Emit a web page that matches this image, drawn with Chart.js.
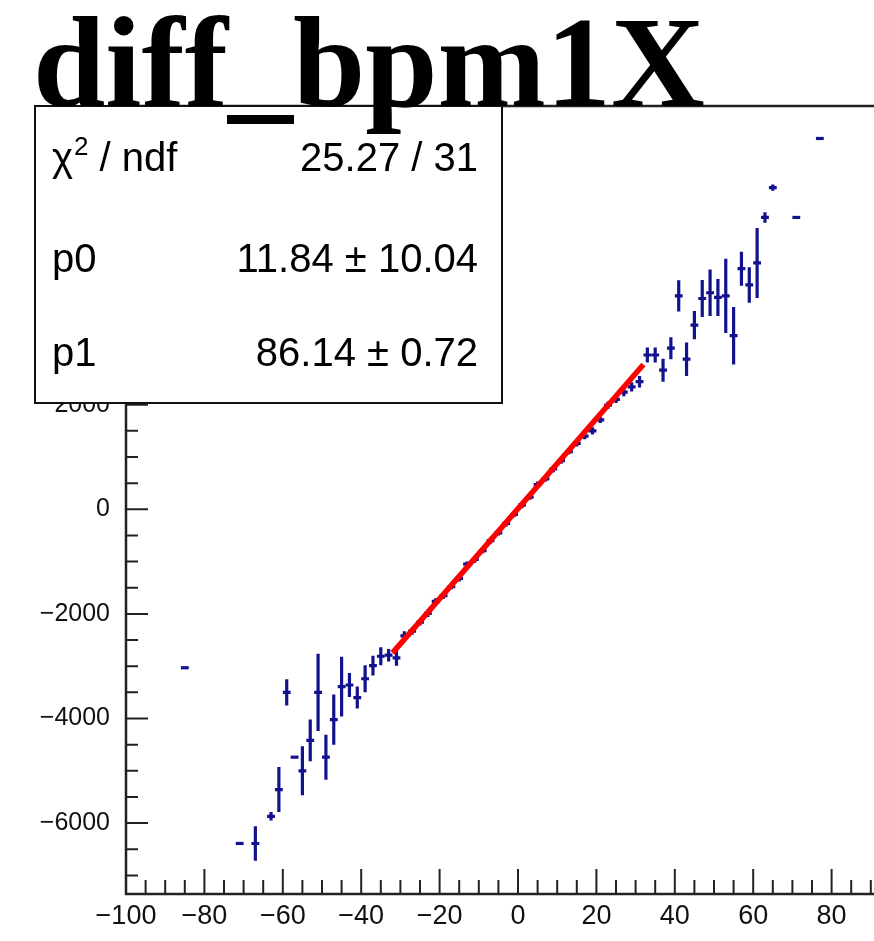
<!DOCTYPE html>
<html>
<head>
<meta charset="utf-8">
<script src="https://cdn.jsdelivr.net/npm/chart.js@4.4.1/dist/chart.umd.min.js"></script>
<style>
  html, body { margin: 0; padding: 0; overflow: hidden; background: #fff; }
  canvas { display: block; }
</style>
</head>
<body>
<canvas id="c" width="910" height="941"></canvas>
<script>
// profile bins: centre, mean, error
const binX = [-85, -71, -67, -63, -61, -59, -57, -55, -53, -51, -49, -47, -45, -43, -41, -39, -37, -35, -33, -31,
  -29, -27, -25, -23, -21, -19, -17, -15, -13, -11, -9, -7, -5, -3, -1,
  1, 3, 5, 7, 9, 11, 13, 15, 17, 19, 21, 23, 25, 27, 29, 31,
  33, 35, 37, 39, 41, 43, 45, 47, 49, 51, 53, 55, 57, 59, 61, 63, 65, 71, 77];
const binY = [-3030, -6390, -6390, -5870, -5360, -3500, -4740, -5000, -4420, -3500, -4740, -4020, -3390, -3360, -3600, -3240, -2990, -2810, -2790, -2840,
  -2420, -2330, -2160, -1990, -1760, -1650, -1480, -1320, -1050, -960, -790, -600, -450, -270, -100,
  80, 230, 470, 580, 770, 930, 1100, 1260, 1400, 1500, 1710, 1990, 2100, 2240, 2340, 2440,
  2950, 2950, 2660, 3080, 4080, 2870, 3520, 4030, 4140, 4050, 4080, 3320, 4600, 4290, 4710, 5580, 6150, 5580, 7090];
const binErr = [0, 0, 330, 80, 430, 250, 0, 470, 400, 740, 430, 480, 570, 230, 210, 260, 190, 170, 120, 150,
  90, 70, 60, 70, 60, 60, 50, 60, 50, 60, 50, 60, 50, 60, 50,
  60, 50, 60, 50, 60, 60, 50, 60, 60, 70, 60, 70, 70, 80, 90, 110,
  145, 145, 220, 210, 300, 320, 270, 355, 445, 355, 710, 550, 325, 340, 670, 100, 60, 0, 0];
const binHalfWidth = 1;

// straight-line fit, drawn over its range
const fitX = [-32, 32];
const fitY = [-2745, 2768];

const xTicks = [-100, -80, -60, -40, -20, 0, 20, 40, 60, 80, 100];
const yTicks = [-6000, -4000, -2000, 0, 2000, 4000, 6000];

const titleText = "diff_bpm1X";
const statNames = ["χ2 / ndf", "p0", "p1"];
const statValues = ["25.27 / 31", "11.84 ± 10.04", "86.14 ± 0.72"];

const navy = "#12128e";

function fmt(v) {
  return v < 0 ? "\u2212" + Math.abs(v) : String(v);
}

const rootDeco = {
  id: "rootDeco",
  beforeDatasetsDraw(chart) {
    const { ctx, scales: { x, y }, chartArea } = chart;
    ctx.save();
    ctx.beginPath();
    ctx.rect(chartArea.left, chartArea.top, chartArea.right - chartArea.left, chartArea.bottom - chartArea.top);
    ctx.clip();
    ctx.strokeStyle = navy;
    ctx.lineWidth = 3.2;
    for (let i = 0; i < binX.length; i++) {
      const py = y.getPixelForValue(binY[i]);
      ctx.beginPath();
      ctx.moveTo(x.getPixelForValue(binX[i] - binHalfWidth), py);
      ctx.lineTo(x.getPixelForValue(binX[i] + binHalfWidth), py);
      if (binErr[i] > 0) {
        const px = x.getPixelForValue(binX[i]);
        ctx.moveTo(px, y.getPixelForValue(binY[i] + binErr[i]));
        ctx.lineTo(px, y.getPixelForValue(binY[i] - binErr[i]));
      }
      ctx.stroke();
    }
    ctx.restore();
  },
  afterDraw(chart) {
    const { ctx, scales: { x, y }, chartArea: a } = chart;
    ctx.save();
    // frame
    ctx.strokeStyle = "#222";
    ctx.lineWidth = 2.5;
    ctx.strokeRect(a.left, a.top, a.right - a.left, a.bottom - a.top);

    // ticks pointing into the frame
    ctx.lineWidth = 2;
    ctx.beginPath();
    for (let v = -100; v <= 100; v += 5) {
      const px = x.getPixelForValue(v);
      const len = v % 20 === 0 ? 25 : 14;
      ctx.moveTo(px, a.bottom);
      ctx.lineTo(px, a.bottom - len);
    }
    for (let v = -7000; v <= 7500; v += 500) {
      const py = y.getPixelForValue(v);
      const len = v % 2000 === 0 ? 22 : 12;
      ctx.moveTo(a.left, py);
      ctx.lineTo(a.left + len, py);
    }
    ctx.stroke();

    // stats box
    ctx.fillStyle = "#fff";
    ctx.fillRect(35, 106, 467, 297);
    ctx.strokeStyle = "#111";
    ctx.lineWidth = 2;
    ctx.strokeRect(35, 106, 467, 297);

    ctx.fillStyle = "#000";
    ctx.textBaseline = "alphabetic";
    const rows = [171, 272, 366];
    for (let i = 0; i < statNames.length; i++) {
      ctx.font = '40px "Liberation Sans"';
      ctx.textAlign = "left";
      if (i === 0) {
        ctx.fillText("χ", 52, rows[i]);
        let cx = 52 + ctx.measureText("χ").width + 1;
        ctx.font = '26px "Liberation Sans"';
        ctx.fillText("2", cx, rows[i] - 16);
        cx += ctx.measureText("2").width;
        ctx.font = '40px "Liberation Sans"';
        ctx.fillText(" / ndf", cx, rows[i]);
      } else {
        ctx.fillText(statNames[i], 52, rows[i]);
      }
      ctx.textAlign = "right";
      ctx.fillText(statValues[i], 478, rows[i]);
    }

    // title
    ctx.textAlign = "left";
    ctx.font = 'bold 130px "Liberation Serif"';
    ctx.fillText(titleText, 33, 106);
    ctx.restore();
  }
};

new Chart(document.getElementById("c"), {
  type: "scatter",
  data: {
    datasets: [
      {
        label: "profile",
        data: binX.map((v, i) => ({ x: v, y: binY[i] })),
        pointRadius: 0,
        showLine: false
      },
      {
        label: "fit",
        type: "line",
        data: fitX.map((v, i) => ({ x: v, y: fitY[i] })),
        borderColor: "#ff0000",
        borderWidth: 5.5,
        pointRadius: 0,
        fill: false
      }
    ]
  },
  options: {
    responsive: false,
    animation: false,
    devicePixelRatio: 1,
    layout: { padding: { top: 106, left: 0, right: 0, bottom: 0 } },
    plugins: {
      legend: { display: false },
      tooltip: { enabled: false },
      title: { display: false }
    },
    scales: {
      x: {
        type: "linear",
        min: -100,
        max: 100,
        afterBuildTicks: s => { s.ticks = xTicks.map(v => ({ value: v })); },
        afterFit: s => { s.height = 47; s.paddingLeft = 0; s.paddingRight = 0; },
        grid: { display: false, drawTicks: false },
        border: { display: false },
        ticks: {
          font: { family: "Liberation Sans", size: 27 },
          color: "#111",
          padding: 6,
          maxRotation: 0,
          autoSkip: false,
          callback: v => fmt(v)
        }
      },
      y: {
        type: "linear",
        min: -7356,
        max: 7711,
        afterBuildTicks: s => { s.ticks = yTicks.map(v => ({ value: v })); },
        afterFit: s => { s.width = 126; s.paddingTop = 0; s.paddingBottom = 0; },
        grid: { display: false, drawTicks: false },
        border: { display: false },
        ticks: {
          font: { family: "Liberation Sans", size: 25 },
          color: "#111",
          padding: 16,
          autoSkip: false,
          callback: v => fmt(v)
        }
      }
    }
  },
  plugins: [rootDeco]
});
</script>
</body>
</html>
